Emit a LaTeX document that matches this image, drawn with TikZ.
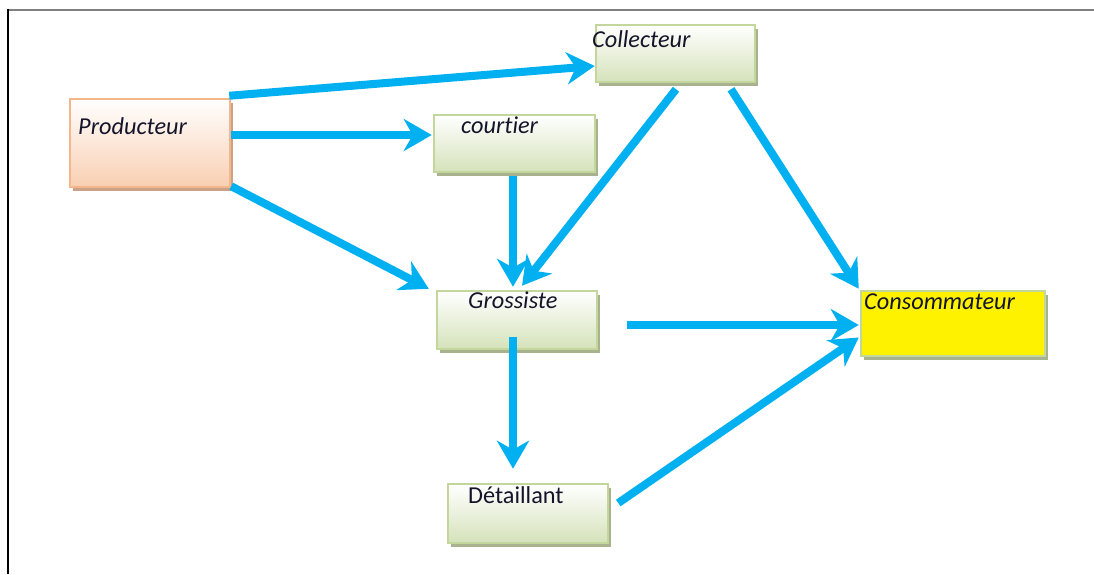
\documentclass[tikz,border=0pt]{standalone}
\usepackage{fontspec}
\setmainfont[Ligatures={NoCommon,NoRare}]{Carlito}
\usetikzlibrary{arrows.meta,calc,shadows}
\definecolor{flow}{HTML}{00B0F0}
\definecolor{peach}{HTML}{F9CFB2}
\definecolor{peachline}{HTML}{F4B68A}
\definecolor{peachshadow}{HTML}{C9A287}
\definecolor{greenfill}{HTML}{D5E2BA}
\definecolor{greenline}{HTML}{C3D69B}
\definecolor{greenshadow}{HTML}{A9B28F}
\definecolor{txt}{HTML}{14142A}
\tikzset{
  box/.style={rectangle, line width=2.5pt, inner sep=0pt},
  greenbox/.style={box, draw=greenline, top color=white, bottom color=greenfill,
    drop shadow={shadow xshift=3pt, shadow yshift=-4pt, fill=greenshadow, opacity=1}},
  peachbox/.style={box, draw=peachline, top color=white, bottom color=peach,
    drop shadow={shadow xshift=3pt, shadow yshift=-4pt, fill=peachshadow, opacity=1}},
  yellowbox/.style={box, draw=greenline, fill=yellow,
    drop shadow={shadow xshift=3pt, shadow yshift=-4pt, fill=greenshadow, opacity=1}},
  lbl/.style={anchor=base west, inner sep=0pt, text=txt, font=\fontsize{24.3}{28}\selectfont\itshape},
  lblup/.style={lbl, font=\fontsize{24.3}{28}\selectfont},
  flowarrow/.style={draw=flow, line width=8pt, -{Stealth[length=28pt,width=32pt,inset=9pt]}},
}
\begin{document}
\begin{tikzpicture}[x=1pt,y=-1pt]
\useasboundingbox (0,0) rectangle (1094,574);
% frame
\draw[gray, line width=2pt] (8,10) -- (1094,10);
\draw[black, line width=2pt] (8,9) -- (8,574);

% boxes
\node[peachbox, minimum width=160pt, minimum height=88pt] (prod) at (150,143) {};
\node[greenbox, minimum width=159pt, minimum height=57pt] (coll) at (675.5,53.5) {};
\node[greenbox, minimum width=161pt, minimum height=57pt] (court) at (514.5,143.5) {};
\node[greenbox, minimum width=160pt, minimum height=58pt] (gros) at (517,320) {};
\node[greenbox, minimum width=160pt, minimum height=59pt] (det) at (528,513.5) {};
\node[yellowbox, minimum width=184pt, minimum height=65pt] (cons) at (953,323.5) {};

% labels
\node[lbl] (prodt) at (78,134) {Producteur};
\node[lbl] (collt) at (592,47) {Collecteur};
\node[lbl] (courtt) at (461,133) {courtier};
\node[lbl] (grost) at (468,308) {Grossiste};
\node[lbl] (const) at (864,309) {Consommateur};
\node[lblup] (dett) at (468,503) {Détaillant};

% connectors
\draw[flowarrow] ($(prod.north east)+(-2,-2)$) -- ($(coll.west)+(0,12.5)$);
\draw[flowarrow] ($(prod.east)+(0,-8)$) -- ($(court.west)+(-1,-8.5)$);
\draw[flowarrow] ($(prod.south east)+(0,-2)$) -- ($(gros.north west)+(-7,-1)$);
\draw[flowarrow] ($(court.south)+(-1.5,3)$) -- ($(gros.north)+(-4,-3)$);
\draw[flowarrow] ($(coll.south)+(0.5,6)$) -- ($(gros.north)+(5,-4)$);
\draw[flowarrow] ($(coll.south)+(55.5,6)$) -- ($(cons.north west)+(-1,-1)$);
\draw[flowarrow] ($(gros.east)+(29,5)$) -- ($(cons.west)+(-1,1.5)$);
\draw[flowarrow] ($(gros.center)+(-4,17)$) -- ($(det.north)+(-15,-14)$);
\draw[flowarrow] ($(det.east)+(9,-10.5)$) -- ($(cons.west)+(-1,14)$);
\end{tikzpicture}
\end{document}
